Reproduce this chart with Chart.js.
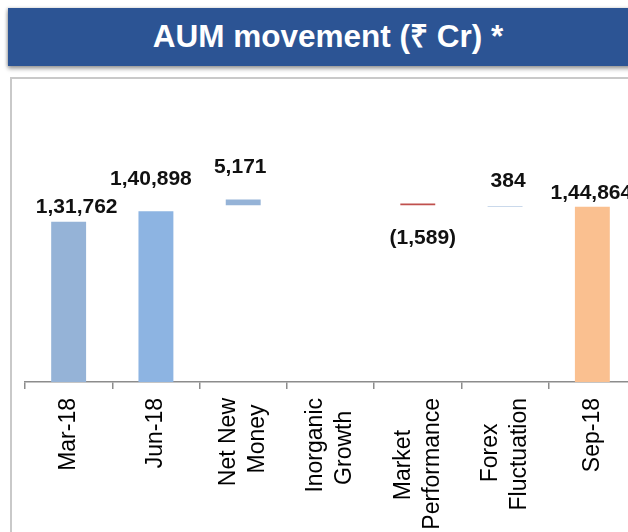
<!DOCTYPE html>
<html lang="en">

<head>
    <meta charset="UTF-8">
    <title>AUM movement</title>
    <style>
        body {
            margin: 0;
            padding: 0;
            background: #ffffff;
            width: 628px;
            height: 532px;
            overflow: hidden;
            position: relative;
            font-family: Arial, "Liberation Sans", sans-serif;
        }

        .banner {
            position: absolute;
            left: 8px;
            top: 8px;
            width: 640px;
            height: 58px;
            background: #2c5494;
            box-shadow: 0 3px 4px rgba(0, 0, 0, 0.35), -1px 0 3px rgba(0, 0, 0, 0.2);
        }

        .banner h1 {
            margin: 0;
            color: #fff;
            font-size: 31.5px;
            font-weight: bold;
            line-height: 56px;
            text-align: center;
            width: 640px;
        }

        .panel {
            position: absolute;
            left: 10px;
            top: 77px;
            width: 700px;
            height: 500px;
            border-left: 2px solid #c9c9c9;
            border-top: 2px solid #c9c9c9;
        }

        .chart-box {
            position: absolute;
            left: 0;
            top: 80px;
        }
    </style>
</head>

<body>
    <div class="banner">
        <h1>AUM movement (₹ Cr) *</h1>
    </div>
    <div class="panel"></div>
    <div class="chart-box">
        <canvas id="aumChart" width="640" height="452"></canvas>
    </div>

    <script src="https://cdn.jsdelivr.net/npm/chart.js"></script>
    <script>
        // Dados do gráfico
        const categories = ['Mar-18', 'Jun-18', ['Net New', 'Money'], ['Inorganic', 'Growth'],
            ['Market', 'Performance'], ['Forex', 'Fluctuation'], 'Sep-18'];
        const values = [131762, 140898, 5171, 0, -1589, 384, 144864];
        const isTotal = [true, true, false, false, false, false, true];
        const barColors = ['#95b3d7', '#8db4e2', '#95b3d7', '#95b3d7', '#c0504d', '#95b3d7', '#fac090'];

        // escala (eixo y oculto)
        const Y_MIN = -8200;
        const Y_MAX = 246800;

        // ajuste fino dos rótulos de valor [dx, distância da barra]
        const labelNudge = [[8, 9], [-5, 26], [-3, 26], [0, 0], [5, 39], [3, 19], [-1, 7.5]];

        const TICK_FONT = 23;
        const LINE_H = 29;

        // cascata: totais partem do eixo, variações flutuam
        let running = 0;
        const ranges = values.map((v, i) => {
            if (isTotal[i]) {
                running = v;
                return [Y_MIN, v];
            }
            const start = running;
            running += v;
            const base = Math.max(start, running);
            return [base, base + Math.abs(v)];
        });

        function formatValue(v) {
            if (v === 0) return '';
            const s = Math.abs(v).toLocaleString('en-IN');
            return v < 0 ? '(' + s + ')' : s;
        }

        // centralizar linhas dos rótulos (Chart.js alinha à direita quando girado)
        const measure = document.createElement('canvas').getContext('2d');
        measure.font = TICK_FONT + 'px Arial';
        function centreLines(lines) {
            const widths = lines.map(l => measure.measureText(l).width);
            const max = Math.max(...widths);
            const sp = measure.measureText(' ').width;
            return lines.map((l, i) => l + ' '.repeat(Math.round((max - widths[i]) / 2 / sp)));
        }

        const valueLabels = {
            id: 'valueLabels',
            afterDatasetsDraw(chart) {
                const ctx = chart.ctx;
                const meta = chart.getDatasetMeta(0);
                ctx.save();
                ctx.font = 'bold 21px Arial';
                ctx.fillStyle = '#111';
                ctx.textAlign = 'center';
                ctx.textBaseline = 'alphabetic';
                meta.data.forEach((bar, i) => {
                    const text = formatValue(values[i]);
                    if (!text) return;
                    const [dx, gap] = labelNudge[i];
                    const top = Math.min(bar.y, bar.base);
                    const bottom = Math.max(bar.y, bar.base);
                    const y = values[i] < 0 ? bottom + gap : top - gap;
                    ctx.fillText(text, bar.x + dx, y);
                });
                ctx.restore();
            }
        };

        new Chart(document.getElementById('aumChart'), {
            type: 'bar',
            data: {
                labels: categories,
                datasets: [{
                    data: ranges,
                    backgroundColor: barColors,
                    borderWidth: 0,
                    categoryPercentage: 1,
                    barPercentage: 0.4
                }]
            },
            options: {
                responsive: false,
                devicePixelRatio: 1,
                animation: false,
                layout: { padding: { left: 25, right: 4, top: 10, bottom: 0 } },
                plugins: {
                    legend: { display: false },
                    tooltip: { enabled: false }
                },
                scales: {
                    x: {
                        offset: true,
                        border: { display: true, color: '#8c8c8c', width: 1.5 },
                        grid: {
                            display: true,
                            offset: true,
                            drawOnChartArea: false,
                            drawTicks: true,
                            tickLength: 7,
                            color: '#8c8c8c',
                            lineWidth: 1.5
                        },
                        ticks: {
                            autoSkip: false,
                            minRotation: 90,
                            maxRotation: 90,
                            padding: 9,
                            color: '#000',
                            labelOffset: -LINE_H / 2,
                            font: (c) => ({
                                family: 'Arial',
                                size: TICK_FONT,
                                lineHeight: Array.isArray(categories[c.index]) ? LINE_H / TICK_FONT : LINE_H / 2 / TICK_FONT
                            }),
                            callback: function (value, index) {
                                const lab = categories[index];
                                return Array.isArray(lab) ? centreLines(lab) : ['', lab];
                            }
                        },
                        afterFit: (scale) => { scale.height = 150; }
                    },
                    y: {
                        display: false,
                        min: Y_MIN,
                        max: Y_MAX
                    }
                }
            },
            plugins: [valueLabels]
        });
    </script>
</body>

</html>
